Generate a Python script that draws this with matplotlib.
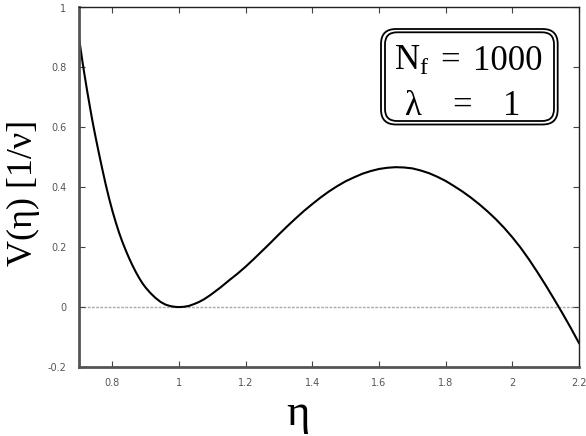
import matplotlib
matplotlib.use("Agg")
import matplotlib.pyplot as plt
from matplotlib.patches import FancyBboxPatch

eta = [0.700, 0.705, 0.710, 0.715, 0.720, 0.725, 0.730, 0.735, 0.740, 0.745,
       0.750, 0.760, 0.770, 0.780, 0.790, 0.800, 0.810, 0.820, 0.830, 0.840,
       0.850, 0.860, 0.870, 0.880, 0.890, 0.900, 0.915, 0.930, 0.945, 0.960,
       0.975, 0.990, 1.000, 1.015, 1.030, 1.045, 1.060, 1.075, 1.090, 1.100,
       1.125, 1.150, 1.175, 1.200, 1.225, 1.250, 1.275, 1.300, 1.325, 1.350,
       1.375, 1.400, 1.425, 1.450, 1.475, 1.500, 1.525, 1.550, 1.575, 1.600,
       1.625, 1.650, 1.675, 1.700, 1.725, 1.750, 1.775, 1.800, 1.825, 1.850,
       1.875, 1.900, 1.925, 1.950, 1.975, 2.000, 2.025, 2.050, 2.075, 2.100,
       2.125, 2.150, 2.175, 2.200]
V = [0.900, 0.860, 0.822, 0.786, 0.752, 0.718, 0.686, 0.654, 0.623, 0.594,
     0.566, 0.512, 0.460, 0.410, 0.364, 0.322, 0.284, 0.249, 0.218, 0.190,
     0.164, 0.140, 0.118, 0.098, 0.080, 0.065, 0.046, 0.030, 0.017, 0.008,
     0.003, 0.0005, 0.000, 0.001, 0.004, 0.010, 0.017, 0.026, 0.037, 0.045,
     0.066, 0.089, 0.111, 0.135, 0.161, 0.188, 0.215, 0.243, 0.270, 0.296,
     0.321, 0.344, 0.366, 0.386, 0.404, 0.420, 0.433, 0.445, 0.454, 0.461,
     0.465, 0.467, 0.466, 0.463, 0.456, 0.447, 0.435, 0.421, 0.404, 0.386,
     0.366, 0.344, 0.320, 0.294, 0.265, 0.233, 0.198, 0.159, 0.117, 0.073,
     0.027, -0.020, -0.069, -0.120]
xticks = [0.8, 1.0, 1.2, 1.4, 1.6, 1.8, 2.0, 2.2]
xticklabels = ["0.8", "1", "1.2", "1.4", "1.6", "1.8", "2", "2.2"]
yticks = [-0.2, 0, 0.2, 0.4, 0.6, 0.8, 1.0]
yticklabels = ["-0.2", "0", "0.2", "0.4", "0.6", "0.8", "1"]

plt.rcParams['mathtext.fontset'] = 'custom'
plt.rcParams['mathtext.rm'] = 'Liberation Serif'
plt.rcParams['mathtext.it'] = 'Liberation Serif:italic'

fig = plt.figure(figsize=(5.86, 4.36), dpi=100)
ax = fig.add_axes([79/586, 1-367/436, 500/586, 359.5/436])

ax.axhline(0, color="#aaaaaa", lw=1.0, ls=(0, (2, 1)), zorder=1)
ax.plot(eta, V, color="black", lw=1.5, zorder=2, solid_joinstyle="round")

ax.set_xlim(0.7, 2.2)
ax.set_ylim(-0.2, 1.0)
ax.set_xticks(xticks)
ax.set_xticklabels(xticklabels)
ax.set_yticks(yticks)
ax.set_yticklabels(yticklabels)
ax.tick_params(direction="in", length=4, width=0.8, colors="#444444",
               labelsize=7, top=True, right=True, labelcolor="#555555")
ax.tick_params(axis="x", pad=8)
ax.tick_params(axis="y", pad=9)
for s in ["left", "bottom"]:
    ax.spines[s].set_linewidth(2.0)
    ax.spines[s].set_color("#555555")
for s in ["top", "right"]:
    ax.spines[s].set_linewidth(1.0)
    ax.spines[s].set_color("#222222")

fig.text(23.5/586, 1-192.5/436, "V(η) [1/ν]", rotation=90, ha="center", va="center",
         fontsize=26, family="Liberation Serif")
fig.text(298/586, 1-414/436, "η", ha="center", va="center",
         fontsize=32, family="Liberation Serif")

# double rounded box (display pixel coordinates)
po, pi = 15, 12
outer = FancyBboxPatch((381 + po, 436 - 124.5 + po), 176.7 - 2*po, 95.5 - 2*po,
                       boxstyle="round,pad=%d" % po, transform=None,
                       fc="white", ec="black", lw=1.3, zorder=5)
inner = FancyBboxPatch((385 + pi, 436 - 121 + pi), 169 - 2*pi, 88.7 - 2*pi,
                       boxstyle="round,pad=%d" % pi, transform=None,
                       fc="none", ec="black", lw=1.3, zorder=6)
fig.patches.extend([outer, inner])

fs = 25
fig.text(394/586, 1-70/436, r"$\mathrm{N_f}$", fontsize=fs, ha="left",
         va="baseline", zorder=7)
fig.text(440/586, 1-70/436, "=", fontsize=fs, ha="left",
         va="baseline", family="Liberation Serif", zorder=7)
fig.text(543/586, 1-70/436, "1000", fontsize=fs, ha="right",
         va="baseline", family="Liberation Serif", zorder=7)
fig.text(404/586, 1-115/436, "λ", fontsize=fs, ha="left",
         va="baseline", family="Liberation Serif", zorder=7)
fig.text(452/586, 1-115/436, "=", fontsize=fs, ha="left",
         va="baseline", family="Liberation Serif", zorder=7)
fig.text(512/586, 1-115/436, "1", fontsize=fs, ha="center",
         va="baseline", family="Liberation Serif", zorder=7)

fig.savefig("out.png", dpi=100)
